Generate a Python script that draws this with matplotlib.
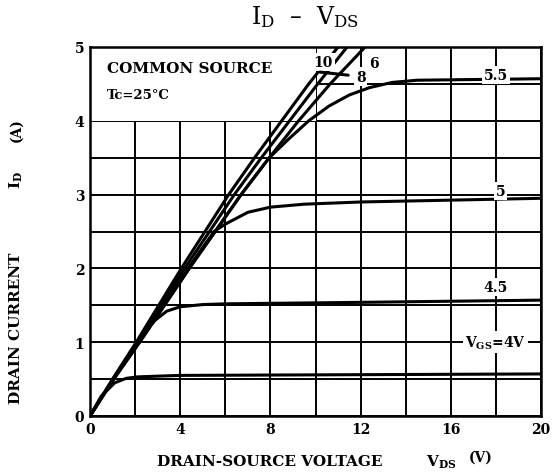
import matplotlib
matplotlib.use("Agg")
import matplotlib.pyplot as plt
from matplotlib.patches import Rectangle

# drain current curves (VDS in V, ID in A)
vds_4 = [0, 0.5, 1.1, 1.6, 2.1, 3.0, 4.0, 8.0, 12.0, 16.0, 20.0]
id_4 = [0, 0.27, 0.45, 0.51, 0.53, 0.54, 0.55, 0.555, 0.56, 0.565, 0.57]

vds_45 = [0, 1.02, 2.1, 2.6, 2.9, 3.4, 4.0, 5.0, 6.0, 12.0, 20.0]
id_45 = [0, 0.5, 1.0, 1.2, 1.3, 1.42, 1.48, 1.51, 1.52, 1.54, 1.57]

vds_5 = [0, 1.03, 2.15, 3.25, 4.35, 5.5, 6.0, 6.5, 7.0, 8.0, 9.5, 12.0, 20.0]
id_5 = [0, 0.5, 1.0, 1.5, 2.0, 2.5, 2.6, 2.68, 2.76, 2.83, 2.87, 2.9, 2.95]

vds_55 = [0, 1.05, 2.2, 3.3, 4.4, 5.55, 6.7, 7.95, 8.8, 9.7, 10.6, 11.5, 12.4, 13.4, 14.5, 20.0]
id_55 = [0, 0.5, 1.0, 1.5, 2.0, 2.5, 3.0, 3.5, 3.75, 4.0, 4.2, 4.35, 4.45, 4.52, 4.55, 4.57]

vds_6 = [0, 1.05, 2.2, 3.3, 4.4, 5.55, 6.7, 7.95, 9.25, 10.65, 12.2]
id_6 = [0, 0.5, 1.0, 1.5, 2.0, 2.5, 3.0, 3.5, 4.0, 4.5, 5.0]

vds_8 = [0, 1.02, 2.1, 3.15, 4.2, 5.3, 6.4, 7.6, 8.85, 10.1, 11.4]
id_8 = [0, 0.5, 1.0, 1.5, 2.0, 2.5, 3.0, 3.5, 4.0, 4.5, 5.0]

vds_10 = [0, 1.0, 2.05, 3.05, 4.05, 5.1, 6.15, 7.3, 8.5, 9.7, 11.0]
id_10 = [0, 0.5, 1.0, 1.5, 2.0, 2.5, 3.0, 3.5, 4.0, 4.5, 5.0]

x_ticks = [0, 4, 8, 12, 16, 20]
y_ticks = [0, 1, 2, 3, 4, 5]

plt.rcParams['font.family'] = ['DejaVu Serif']
plt.rcParams['mathtext.default'] = 'regular'

W, H = 553, 477
fig = plt.figure(figsize=(W / 100, H / 100), dpi=100)
ax = fig.add_axes([90 / W, 1 - 417 / H, 451 / W, 369 / H])

curves = [(vds_4, id_4), (vds_45, id_45), (vds_5, id_5), (vds_55, id_55),
          (vds_6, id_6), (vds_8, id_8), (vds_10, id_10)]
for xs, ys in curves:
    ax.plot(xs, ys, color='black', lw=2.2, zorder=3, solid_joinstyle='round')

ax.set_xlim(0, 20)
ax.set_ylim(0, 5)
ax.set_xticks(x_ticks)
ax.set_yticks(y_ticks)
ax.set_xticks([2, 6, 10, 14, 18], minor=True)
ax.set_yticks([0.5, 1.5, 2.5, 3.5, 4.5], minor=True)
ax.grid(True, which='both', color='black', lw=1.4)
ax.set_axisbelow(True)
ax.tick_params(which='both', length=0)
ax.tick_params(axis='x', pad=4)
ax.tick_params(axis='y', pad=4)
for lab in ax.get_xticklabels() + ax.get_yticklabels():
    lab.set_fontweight('bold')
    lab.set_fontsize(10)
for sp in ax.spines.values():
    sp.set_linewidth(1.8)

# blank box for the conditions text
ax.add_patch(Rectangle((0, 4), 10, 1, facecolor='white', edgecolor='none', zorder=1))
ax.text(0.75, 4.72, 'COMMON SOURCE', fontsize=11, fontweight='bold', va='center', zorder=4)
ax.text(0.75, 4.36, 'Tc=25°C', fontsize=9.5, fontweight='bold', va='center', zorder=4)

wbox = dict(facecolor='white', edgecolor='none', pad=1.5)
ax.text(10.35, 4.8, '10', fontsize=10, fontweight='bold', ha='center', va='center',
        zorder=4, bbox=wbox)
ax.text(12.6, 4.78, '6', fontsize=10, fontweight='bold', ha='center', va='center',
        zorder=4, bbox=wbox)
ax.annotate('8', xy=(10.2, 4.66), xytext=(12.0, 4.6), fontsize=10, fontweight='bold',
            ha='center', va='center', zorder=4, bbox=wbox,
            arrowprops=dict(arrowstyle='-', lw=2.2, color='black', shrinkA=4, shrinkB=0))
ax.text(18.0, 4.62, '5.5', fontsize=10, fontweight='bold', ha='center', va='center',
        zorder=4, bbox=wbox)
ax.text(18.2, 3.05, '5', fontsize=10, fontweight='bold', ha='center', va='center',
        zorder=4, bbox=wbox)
ax.text(18.0, 1.75, '4.5', fontsize=10, fontweight='bold', ha='center', va='center',
        zorder=4, bbox=wbox)
ax.text(18.0, 1.0, r'V$_{GS}$=4V', fontsize=10, fontweight='bold', ha='center',
        va='center', zorder=4, bbox=wbox)

# title and axis labels placed as on the sheet
fig.text(305 / W, 1 - 17 / H, r'I$_{D}$  –  V$_{DS}$', fontsize=17,
         ha='center', va='center')
fig.text(270 / W, 1 - 462 / H, 'DRAIN-SOURCE VOLTAGE', fontsize=11,
         fontweight='bold', ha='center', va='center')
fig.text(441 / W, 1 - 462 / H, r'V$_{DS}$', fontsize=11,
         fontweight='bold', ha='center', va='center')
fig.text(481 / W, 1 - 458 / H, '(V)', fontsize=10,
         fontweight='bold', ha='center', va='center')
fig.text(16 / W, 1 - 328 / H, 'DRAIN CURRENT', fontsize=11, fontweight='bold',
         rotation=90, ha='center', va='center')
fig.text(16 / W, 1 - 180 / H, r'I$_{D}$', fontsize=11, fontweight='bold',
         rotation=90, ha='center', va='center')
fig.text(16 / W, 1 - 130 / H, '(A)', fontsize=10, fontweight='bold',
         rotation=90, ha='center', va='center')

fig.savefig('out.png', dpi=100)
